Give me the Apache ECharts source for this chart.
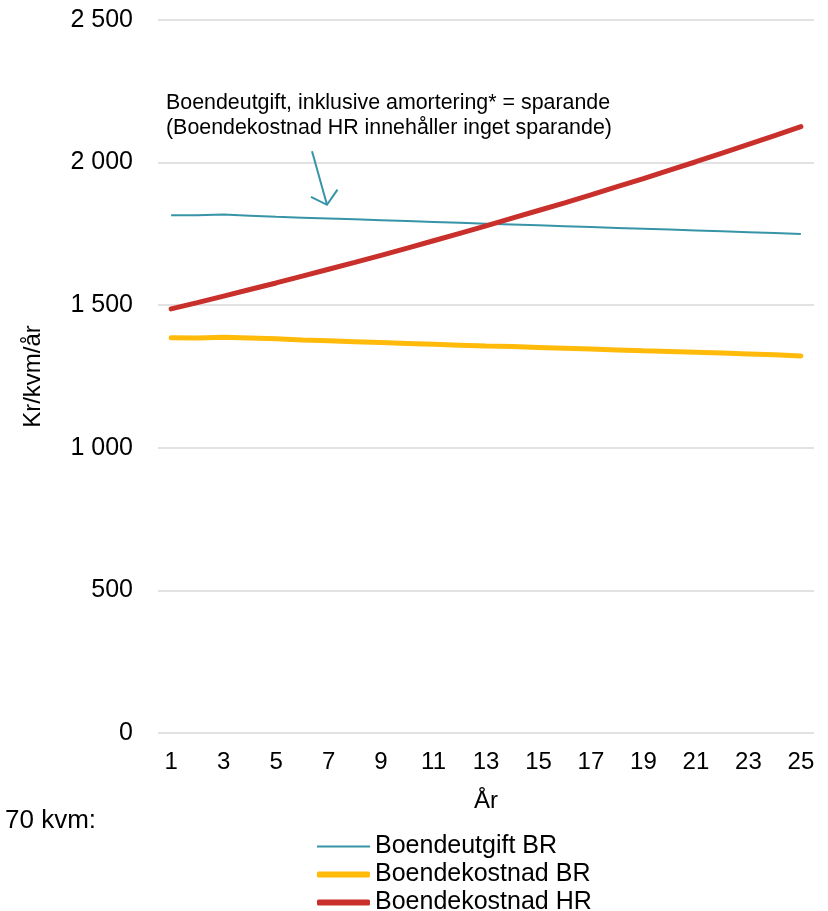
<!DOCTYPE html>
<html>
<head>
<meta charset="utf-8">
<script src="https://cdn.jsdelivr.net/npm/echarts@6/dist/echarts.min.js"></script>
<style>
  html, body { margin: 0; padding: 0; background: #fff; }
  #chart { width: 828px; height: 911px; }
</style>
</head>
<body>
<div id="chart"></div>
<script>
// Years on the horizontal axis
const years = ['1','2','3','4','5','6','7','8','9','10','11','12','13','14','15','16','17','18','19','20','21','22','23','24','25'];

// Kr per kvm and year
const boendeutgiftBR = [1815, 1815, 1818, 1814, 1810, 1807, 1804, 1801, 1798, 1795, 1792, 1789, 1786, 1783, 1780, 1777, 1774, 1771, 1768, 1765, 1762, 1759, 1756, 1753, 1750];
const boendekostnadBR = [1386, 1385, 1388, 1385, 1382, 1378, 1375, 1372, 1369, 1366, 1363, 1360, 1357, 1355, 1352, 1349, 1346, 1343, 1340, 1338, 1335, 1332, 1329, 1326, 1322];
const boendekostnadHR = [1487, 1509, 1532, 1555, 1578, 1602, 1626, 1650, 1675, 1700, 1726, 1752, 1778, 1805, 1832, 1859, 1887, 1916, 1944, 1974, 2003, 2033, 2064, 2095, 2126];

const seriesNames = ['Boendeutgift BR', 'Boendekostnad BR', 'Boendekostnad HR'];
const colors = ['#3794a8', '#ffba0a', '#c9302c'];
const FONT = 'Liberation Sans, Arial, sans-serif';

const chart = echarts.init(document.getElementById('chart'), null, { renderer: 'canvas' });

function fmt(v) {
  return String(v).replace(/\B(?=(\d{3})+(?!\d))/g, ' ');
}

// One legend block per series so each key line keeps its own thickness
function legendRow(name, top, height, icon) {
  return {
    orient: 'vertical',
    left: 317,
    top: top,
    icon: icon,
    itemWidth: 53,
    itemHeight: height,
    itemGap: 0,
    padding: 0,
    textStyle: { fontSize: 25, color: '#000', fontFamily: FONT },
    data: [name]
  };
}

chart.setOption({
  animation: false,
  backgroundColor: '#fff',
  textStyle: { fontFamily: FONT, color: '#000' },
  grid: { left: 158, right: 14, top: 20, bottom: 178 },
  xAxis: {
    type: 'category',
    data: years,
    boundaryGap: true,
    name: 'År',
    nameLocation: 'middle',
    nameGap: 56,
    nameTextStyle: { fontSize: 24, color: '#000', fontFamily: FONT },
    axisLine: { show: false },
    axisTick: { show: false },
    axisLabel: { interval: 1, fontSize: 24, color: '#000', margin: 17, fontFamily: FONT }
  },
  yAxis: {
    type: 'value',
    min: 0,
    max: 2500,
    interval: 500,
    name: 'Kr/kvm/år',
    nameLocation: 'middle',
    nameGap: 113,
    nameRotate: 90,
    nameTextStyle: { fontSize: 24, color: '#000', fontFamily: FONT },
    axisLine: { show: false },
    axisTick: { show: false },
    axisLabel: { fontSize: 25, color: '#000', margin: 25, formatter: fmt, fontFamily: FONT },
    splitLine: { lineStyle: { color: '#d9d9d9', width: 1.5 } }
  },
  legend: [
    legendRow(seriesNames[0], 834, 2, 'rect'),
    legendRow(seriesNames[1], 862, 6, 'roundRect'),
    legendRow(seriesNames[2], 890, 6, 'roundRect')
  ],
  series: [
    {
      name: seriesNames[0], type: 'line', data: boendeutgiftBR,
      symbol: 'none', color: colors[0],
      lineStyle: { width: 2, color: colors[0] }, z: 3
    },
    {
      name: seriesNames[1], type: 'line', data: boendekostnadBR,
      symbol: 'none', color: colors[1],
      lineStyle: { width: 5, color: colors[1], cap: 'round' }, z: 2
    },
    {
      name: seriesNames[2], type: 'line', data: boendekostnadHR,
      symbol: 'none', color: colors[2],
      lineStyle: { width: 5, color: colors[2], cap: 'round' }, z: 4
    }
  ]
});

// Annotation arrow positioned in data space (fractional year index, value)
function toPx(idx, val) {
  const p0 = chart.convertToPixel({ gridIndex: 0 }, [0, val]);
  const p1 = chart.convertToPixel({ gridIndex: 0 }, [1, val]);
  return [p0[0] + (p1[0] - p0[0]) * idx, p0[1]];
}
const arrowStart = toPx(5.37, 2040);
const arrowTip = toPx(5.94, 1852);
const wingL = toPx(5.33, 1880);
const wingR = toPx(6.34, 1905);

chart.setOption({
  graphic: [
    {
      type: 'text', left: 166, top: 91,
      style: {
        text: 'Boendeutgift, inklusive amortering* = sparande\n(Boendekostnad HR innehåller inget sparande)',
        font: '21.4px ' + FONT, fill: '#000', lineHeight: 25
      }
    },
    {
      type: 'line', z: 10,
      shape: { x1: arrowStart[0], y1: arrowStart[1], x2: arrowTip[0], y2: arrowTip[1] },
      style: { stroke: colors[0], lineWidth: 2 }
    },
    {
      type: 'polyline', z: 10,
      shape: { points: [wingL, arrowTip, wingR] },
      style: { stroke: colors[0], lineWidth: 2, fill: null }
    },
    {
      type: 'text', left: 5, top: 808,
      style: { text: '70 kvm:', font: '26px ' + FONT, fill: '#000' }
    }
  ]
});
</script>
</body>
</html>
